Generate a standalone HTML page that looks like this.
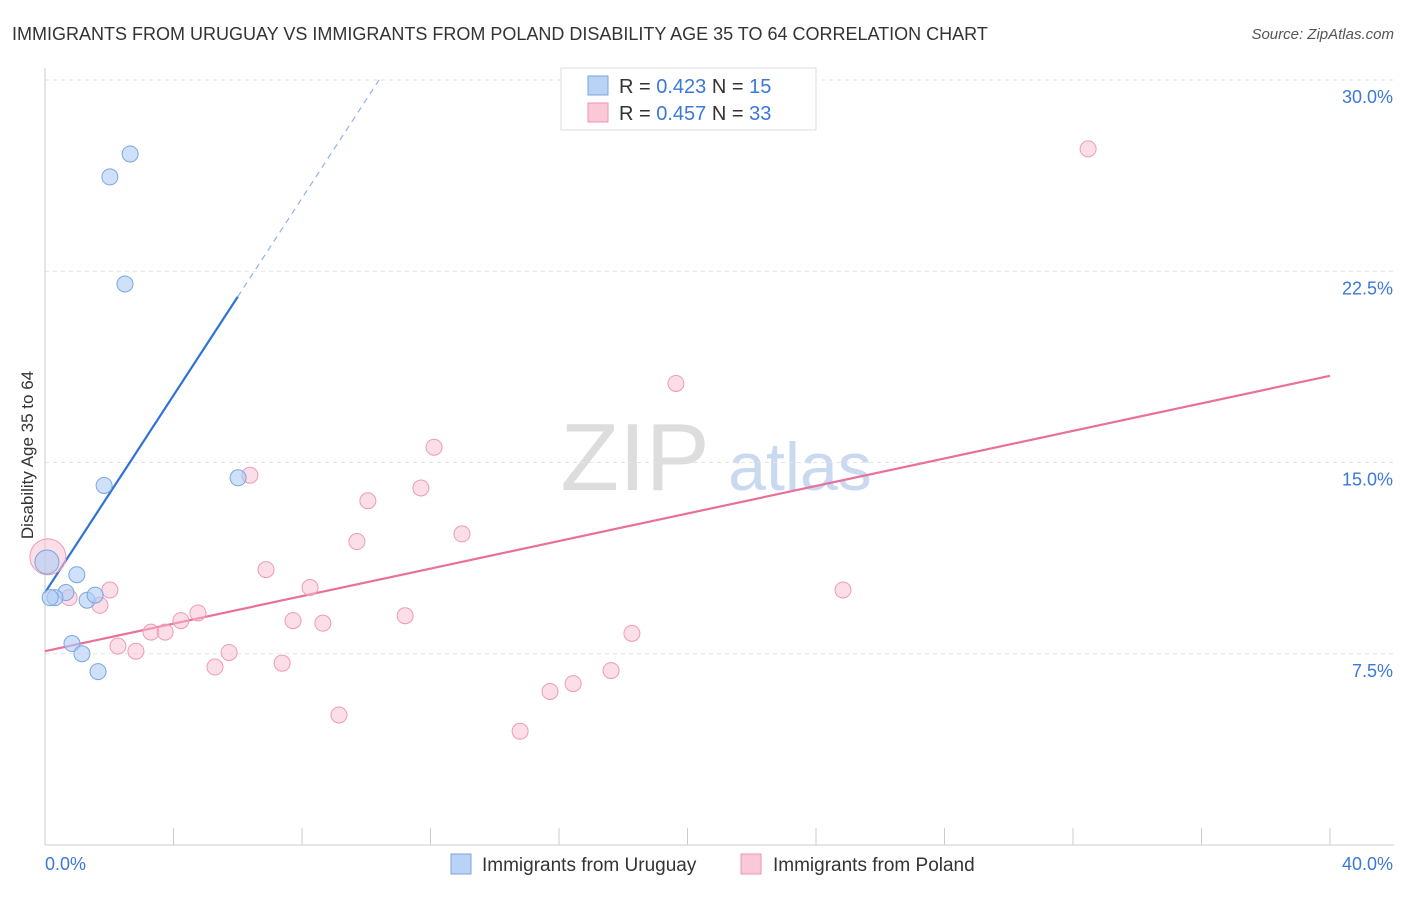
<!DOCTYPE html>
<html><head><meta charset="utf-8"><style>
body{margin:0;background:#fff;font-family:"Liberation Sans",sans-serif;}
svg text{font-family:"Liberation Sans",sans-serif;}
</style></head><body>
<svg id="c" width="1406" height="892">
<text x="12" y="40" font-size="18" fill="#333">IMMIGRANTS FROM URUGUAY VS IMMIGRANTS FROM POLAND DISABILITY AGE 35 TO 64 CORRELATION CHART</text>
<text x="1394" y="39" font-size="15" fill="#555" text-anchor="end" font-style="italic">Source: ZipAtlas.com</text>
<text x="33" y="455" font-size="17" fill="#333" text-anchor="middle" transform="rotate(-90 33 455)">Disability Age 35 to 64</text>
<g><text x="635" y="490" font-size="96" fill="#ddd" font-family="Liberation Serif" text-anchor="middle">ZIP</text><text x="800" y="490" font-size="68" fill="#c9d9ef" text-anchor="middle">atlas</text></g>
<g id="grid"></g><g id="lines"></g><g id="pts"></g>
<g>
<rect x="561" y="68" width="255" height="62" fill="#fff" stroke="#ddd"/>
<rect x="588" y="76" width="20" height="19" fill="#b9d3f5" stroke="#7aa6e0"/>
<rect x="588" y="103" width="20" height="19" fill="#fbc8d8" stroke="#ee93b2"/>
<text x="619" y="93" font-size="20" fill="#333">R = <tspan fill="#3b78d8">0.423</tspan>   N = <tspan fill="#3b78d8">15</tspan></text>
<text x="619" y="120" font-size="20" fill="#333">R = <tspan fill="#3b78d8">0.457</tspan>   N = <tspan fill="#3b78d8">33</tspan></text>
</g>
<g>
<rect x="451" y="854" width="20" height="20" fill="#b9d3f5" stroke="#7aa6e0"/>
<text x="482" y="871" font-size="19" fill="#333">Immigrants from Uruguay</text>
<rect x="741" y="854" width="20" height="20" fill="#fbc8d8" stroke="#ee93b2"/>
<text x="773" y="871" font-size="19" fill="#333">Immigrants from Poland</text>
</g>
</svg>
<script>
const yTicks=[7.5,15,22.5,30];
const yTickLabels=["7.5%","15.0%","22.5%","30.0%"];
const xTickLabels=["0.0%","40.0%"];
const uruguayX=[2.65,2.02,2.49,1.84,6.01,0.99,0.65,0.31,1.31,1.56,0.84,1.15,1.65,0.06,0.16];
const uruguayY=[27.1,26.2,22.0,14.1,14.4,10.6,9.9,9.7,9.6,9.8,7.9,7.5,6.8,11.1,9.7];
const polandX=[32.47,19.64,12.11,6.38,11.70,10.05,12.98,9.71,6.88,8.25,24.84,2.02,1.71,0.75,11.21,4.76,4.23,7.72,8.65,18.27,3.30,3.74,2.27,2.83,5.73,7.38,5.29,17.62,16.44,15.72,9.15,14.79,0.09];
const polandY=[27.3,18.1,15.6,14.5,14.0,13.5,12.2,11.9,10.8,10.1,10.0,10.0,9.4,9.7,8.99,9.1,8.8,8.8,8.7,8.3,8.35,8.35,7.8,7.6,7.55,7.13,6.98,6.84,6.33,6.02,5.1,4.46,11.3];
const uruguayTrend=[0,9.9,6.0,21.5];
const polandTrend=[0,7.6,40,18.4];
const X0=45,X1=1330,Y0=845,PPY=25.5;
const sx=v=>X0+(X1-X0)*v/40, sy=v=>Y0-v*PPY;
const NS="http://www.w3.org/2000/svg";
function mk(t,a,p){const e=document.createElementNS(NS,t);for(const k in a)e.setAttribute(k,a[k]);p.appendChild(e);return e;}
const g=document.getElementById('grid');
yTicks.forEach((v,i)=>{
 const l=mk('line',{x1:X0,x2:1394,y1:sy(v),y2:sy(v),stroke:'#e3e3e3','stroke-dasharray':'4 4'},g);
 
 
 const t=mk('text',{x:1393,y:sy(v)+23,'font-size':18,fill:'#3b78d8','text-anchor':'end'},g);
 t.textContent=yTickLabels[i];
 
 
});
const ax=mk('line',{x1:X0,x2:X0,y1:68,y2:845,stroke:'#ccc'},g);


const bx=mk('line',{x1:X0,x2:1394,y1:845,y2:845,stroke:'#ccc'},g);


for(let i=0;i<=10;i++){const tk=mk('line',{x1:sx(i*4),x2:sx(i*4),y1:828,y2:845,stroke:'#ccc'},g);
 
 }
[0,40].forEach((v,i)=>{const t=mk('text',{x:i?1393:45,y:870,'font-size':18,fill:'#3b78d8','text-anchor':i?'end':'start'},g);t.textContent=xTickLabels[i];
 
 });
const L=document.getElementById('lines');
const [a,b,c,d]=uruguayTrend, sl=(d-b)/(c-a);
const ul=mk('line',{x1:sx(a),y1:sy(b),x2:sx(c),y2:sy(d),stroke:'#2f72d6','stroke-width':2.2},L);


const xe=a+(30-b)/sl;
const ud=mk('line',{x1:sx(c),y1:sy(d),x2:sx(xe),y2:sy(30),stroke:'#8fb2e6','stroke-width':1.2,'stroke-dasharray':'6 5'},L);


const pl=mk('line',{x1:sx(polandTrend[0]),y1:sy(polandTrend[1]),x2:sx(polandTrend[2]),y2:sy(polandTrend[3]),stroke:'#e8709a','stroke-width':2.2},L);


const P=document.getElementById('pts');
polandX.forEach((x,i)=>{const big=i==polandX.length-1;
 const e=mk('circle',{cx:sx(x),cy:sy(polandY[i]),r:big?18:8,fill:'rgba(248,190,210,0.5)',stroke:'#ee9ab7','stroke-width':1},P);
 
 });
uruguayX.forEach((x,i)=>{const big=i==13;
 const e=mk('circle',{cx:sx(x),cy:sy(uruguayY[i]),r:big?12:8,fill:'rgba(175,205,245,0.6)',stroke:'#7aa6e0','stroke-width':1},P);
 
 });
</script>
</body></html>
